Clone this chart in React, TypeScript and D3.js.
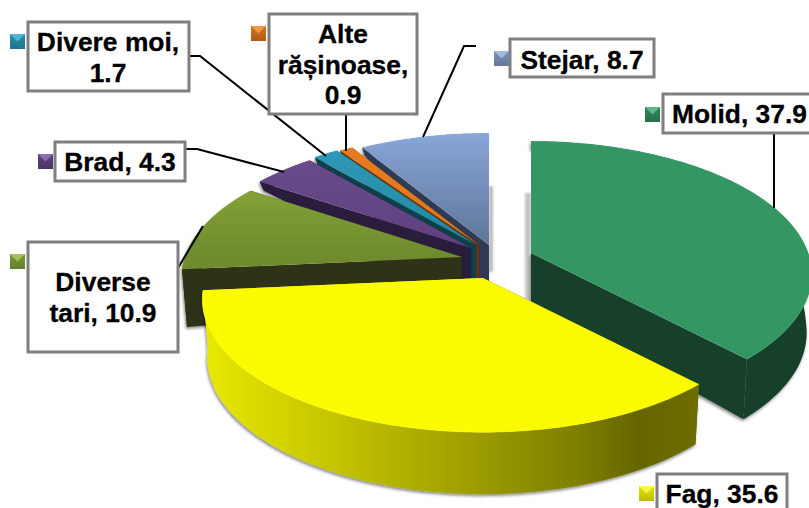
import React from "react";
import * as d3 from "d3";

// ---- data ----
const categories = ["Molid", "Fag", "Diverse tari", "Brad", "Divere moi", "Alte rășinoase", "Stejar"];
const values = [37.9, 35.6, 10.9, 4.3, 1.7, 0.9, 8.7];
const labelLines = [
  ["Molid, 37.9"],
  ["Fag, 35.6"],
  ["Diverse", "tari, 10.9"],
  ["Brad, 4.3"],
  ["Divere moi,", "1.7"],
  ["Alte", "rășinoase,", "0.9"],
  ["Stejar, 8.7"],
];

// ---- styles ----
const topFrom = ["#349763", "#fbfb00", "#8fb03c", "#6b4c8c", "#2f9cba", "#e97c1f", "#88a5d8"];
const topTo = ["#349763", "#fbfb00", "#6f8b2e", "#5f4180", "#23879f", "#e2761c", "#5f7598"];
const wallColor = ["#153f2b", "url(#fagWall)", "#2d3312", "#2a1a3c", "#0f3f4c", "#6a3610", "#2e3b52"];
const keyColor = ["#2f8a5a", "#e8e800", "#7d9b35", "#5f4180", "#2790ac", "#d9731c", "#7c93c0"];
const keyLight = ["#6fc79a", "#ffff70", "#b3cf63", "#9d7fc0", "#5fc4dc", "#f5a65a", "#b4c6e8"];

// ---- layout ----
const W = 809, H = 508;
const CX = 480, CY = 250;
const RX = 277, RY = 129.5, P = 0.16;
const APEX_DEPTH = 48;
const explode: [number, number][] = [[51, 3], [3, 28], [-18, 7], [-9, -2], [-4, -5], [-1, -5], [9, -5]];
const rimDepth = d3.scaleLinear().domain([-1, -0.5, 0.1, 0.7, 1]).range([8, 9, 58, 60, 62]);

const boxes = [
  { x: 663, y: 94, w: 160, h: 39, tx: 672, anchor: "start", base: [123], key: [645, 107], lead: [[774, 133], [774, 208]] },
  { x: 657, y: 474, w: 130, h: 50, tx: 722, anchor: "middle", base: [503], key: [639, 486], lead: [] },
  { x: 28, y: 242, w: 150, h: 110, tx: 103, anchor: "middle", base: [291, 322], key: [10, 254], lead: [[178, 268], [203, 226]] },
  { x: 55, y: 142, w: 130, h: 39, tx: 120, anchor: "middle", base: [171], key: [38, 154], lead: [[185, 149], [197, 149], [284, 172]] },
  { x: 28, y: 22, w: 161, h: 69, tx: 108, anchor: "middle", base: [51, 82], key: [10, 34], lead: [[189, 56], [200, 56], [326, 156]] },
  { x: 269, y: 14, w: 148, h: 100, tx: 343, anchor: "middle", base: [43, 74, 104], key: [251, 26], lead: [[346, 114], [346, 151]] },
  { x: 510, y: 39, w: 144, h: 38, tx: 582, anchor: "middle", base: [69], key: [494, 51], lead: [[476, 46], [464, 46], [423, 137]] },
];

// ---- geometry ----
const pieGen = d3.pie<number>().sort(null).startAngle(0).endAngle(2 * Math.PI);
const arcs = pieGen(values);

function project(a: number) {
  const u = Math.sin(a), v = -Math.cos(a), d = 1 - P * v;
  return { u, v, x: (RX * u) / d, y: (RY * v) / d };
}
const linePath = d3.line<[number, number]>().x((d) => d[0]).y((d) => d[1]);

function sampleAngles(a0: number, a1: number) {
  const n = Math.max(4, Math.ceil((a1 - a0) / 0.02));
  return d3.range(n + 1).map((i) => a0 + ((a1 - a0) * i) / n);
}

function slice(i: number) {
  const { startAngle, endAngle } = arcs[i];
  const ax = CX + explode[i][0], ay = CY + explode[i][1];
  const ang = sampleAngles(startAngle, endAngle);
  const top: [number, number][] = ang.map((a) => {
    const p = project(a);
    return [ax + p.x, ay + p.y];
  });
  const bottom: [number, number][] = ang.map((a) => {
    const p = project(a);
    return [ax + p.x - 5 * p.u, ay + p.y + rimDepth(p.v)];
  });
  const apex: [number, number] = [ax, ay];
  const apexB: [number, number] = [ax, ay + APEX_DEPTH];
  const last = top.length - 1;
  return {
    top: linePath([apex, ...top]) + "Z",
    rim: linePath([...top, ...[...bottom].reverse()]) + "Z",
    startWall: linePath([apex, top[0], bottom[0], apexB]) + "Z",
    endWall: linePath([apex, top[last], bottom[last], apexB]) + "Z",
    outer: linePath(top) || "",
    ax,
    ay,
  };
}

const drawOrder = [6, 5, 4, 3, 2, 0, 1];
const font = "'Liberation Sans', Arial, sans-serif";

export default function App() {
  const sl = values.map((_, i) => slice(i));
  return (
    <svg
      width={W}
      height={H}
      viewBox={`0 0 ${W} ${H}`}
      style={{ position: "absolute", left: 0, top: 0, background: "#fff" }}
    >
      <defs>
        <linearGradient id="fagWall" gradientUnits="userSpaceOnUse" x1={205} x2={697} y1={0} y2={0}>
          <stop offset="0" stopColor="#e8e800" />
          <stop offset="0.25" stopColor="#c6c600" />
          <stop offset="0.5" stopColor="#a3a300" />
          <stop offset="0.75" stopColor="#808000" />
          <stop offset="0.88" stopColor="#656500" />
          <stop offset="1" stopColor="#6d6d00" />
        </linearGradient>
        {values.map((_, i) => (
          <linearGradient
            key={i}
            id={`top${i}`}
            gradientUnits="userSpaceOnUse"
            x1={0}
            x2={0}
            y1={sl[i].ay - 110}
            y2={sl[i].ay}
          >
            <stop offset="0" stopColor={topFrom[i]} />
            <stop offset="1" stopColor={topTo[i]} />
          </linearGradient>
        ))}
        {values.map((_, i) => (
          <linearGradient key={i} id={`key${i}`} x1="0" x2="0" y1="0" y2="1">
            <stop offset="0" stopColor={keyColor[i]} />
            <stop offset="1" stopColor={d3.color(keyColor[i])!.darker(0.6).toString()} />
          </linearGradient>
        ))}
        <filter id="shadow" x="-10%" y="-10%" width="120%" height="120%">
          <feDropShadow dx={-1} dy={2} stdDeviation={1.5} floodColor="#000" floodOpacity={0.45} />
        </filter>
        <filter id="blur" x="-200%" y="-10%" width="500%" height="120%">
          <feGaussianBlur stdDeviation={1.2} />
        </filter>
      </defs>

      {/* faint shadows beside the split between Stejar and Molid */}
      <rect
        x={sl[0].ax - 6}
        width={6}
        y={sl[0].ay - 60}
        height={60 + APEX_DEPTH}
        fill="#c4c4c4"
        filter="url(#blur)"
      />
      <rect
        x={sl[6].ax}
        width={4}
        y={sl[6].ay - 59}
        height={59 + 27}
        fill="#bbb"
        filter="url(#blur)"
      />

      {drawOrder.map((i) => (
        <g key={categories[i]}>
          <g filter="url(#shadow)">
            <path d={sl[i].startWall} fill={i === 1 ? "#6d6d00" : wallColor[i]} />
            <path d={sl[i].endWall} fill={i === 1 ? "#e8e800" : wallColor[i]} />
            <path d={sl[i].rim} fill={wallColor[i]} />
          </g>
          <path d={sl[i].top} fill={`url(#top${i})`} />
          <path d={sl[i].outer} fill="none" stroke={d3.color(topFrom[i])!.brighter(0.4).toString()} strokeOpacity={0.5} strokeWidth={1} />
        </g>
      ))}

      {boxes.map((b, i) => (
        <g key={i}>
          {b.lead.length > 0 && (
            <path d={linePath(b.lead as [number, number][]) || ""} fill="none" stroke="#000" strokeWidth={2} />
          )}
        </g>
      ))}

      {boxes.map((b, i) => (
        <g key={i}>
          <rect x={b.x} y={b.y} width={b.w} height={b.h} fill="#fff" stroke="#7f7f7f" strokeWidth={3} />
          {labelLines[i].map((t, j) => (
            <text
              key={j}
              x={b.tx}
              y={b.base[j]}
              textAnchor={b.anchor as "start" | "middle"}
              fontFamily={font}
              fontWeight={700}
              fontSize={26.4}
              stroke="#000"
              strokeWidth={0.3}
              fill="#000"
            >
              {t}
            </text>
          ))}
          <rect x={b.key[0]} y={b.key[1]} width={15} height={15} fill={`url(#key${i})`} />
          <path
            d={`M${b.key[0]},${b.key[1]}h15l-7.5,7.5Z`}
            fill={keyLight[i]}
            fillOpacity={0.75}
          />
        </g>
      ))}
    </svg>
  );
}
